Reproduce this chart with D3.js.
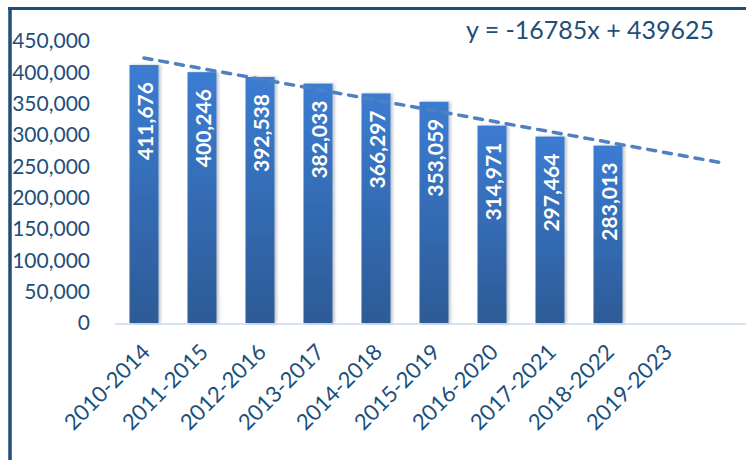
<!DOCTYPE html>
<html>
<head>
<meta charset="utf-8">
<script src="https://cdn.jsdelivr.net/npm/d3@7"></script>
<style>
  html, body { margin: 0; padding: 0; background: #fff; }
  #chart { width: 746px; height: 460px; overflow: hidden; }
  text { font-family: Lato, "Open Sans", sans-serif; }
</style>
</head>
<body>
<div id="chart"></div>
<script>
// Periodos (a última categoria fica vazia, como no original)
const periodos = ["2010-2014", "2011-2015", "2012-2016", "2013-2017", "2014-2018",
                  "2015-2019", "2016-2020", "2017-2021", "2018-2022", "2019-2023", ""];
const totais = [411676, 400246, 392538, 382033, 366297, 353059, 314971, 297464, 283013, null, null];
const yTicks = [0, 50000, 100000, 150000, 200000, 250000, 300000, 350000, 400000, 450000];
// Linha de tendência mostrada no gráfico
const tendSlope = -16785;
const tendIntercept = 439625;
const tendX = [1, 11];

const width = 746, height = 460;
const corTexto = "#1f4e79";

const svg = d3.select("#chart").append("svg")
    .attr("width", width)
    .attr("height", height);

const defs = svg.append("defs");
const grad = defs.append("linearGradient")
    .attr("id", "gradBarra")
    .attr("x1", 0).attr("y1", 0).attr("x2", 0).attr("y2", 1);
grad.append("stop").attr("offset", "0%").attr("stop-color", "#3b7cd2");
grad.append("stop").attr("offset", "100%").attr("stop-color", "#2d5b96");

const sombra = defs.append("filter").attr("id", "sombra")
    .attr("x", "-30%").attr("y", "-5%").attr("width", "160%").attr("height", "110%");
sombra.append("feDropShadow")
    .attr("dx", 2).attr("dy", 0).attr("stdDeviation", 1.5)
    .attr("flood-color", "#000").attr("flood-opacity", 0.25);

// Moldura
svg.append("line")
    .attr("x1", 8).attr("x2", width).attr("y1", 8.5).attr("y2", 8.5)
    .attr("stroke", corTexto).attr("stroke-width", 3);
svg.append("line")
    .attr("x1", 10).attr("x2", 10).attr("y1", 7).attr("y2", height)
    .attr("stroke", corTexto).attr("stroke-width", 3.5);

const x = d3.scaleBand()
    .domain(d3.range(periodos.length))
    .range([115, 753])
    .paddingInner(0.5)
    .paddingOuter(0.25);

const y = d3.scaleLinear()
    .domain([0, 450000])
    .range([323, 41]);

// Eixo Y (só rótulos)
const eixoY = svg.append("g")
    .attr("transform", "translate(90,0)")
    .call(d3.axisLeft(y).tickValues(yTicks).tickSize(0).tickPadding(0)
        .tickFormat(d3.format(",")));
eixoY.select(".domain").remove();
eixoY.selectAll("text")
    .attr("font-size", "21px")
    .attr("font-family", "Lato, sans-serif")
    .attr("fill", corTexto);

// Linha base
svg.append("line")
    .attr("x1", 115).attr("x2", width)
    .attr("y1", 324).attr("y2", 324)
    .attr("stroke", "#d5e3f5").attr("stroke-width", 2);

// Barras
const dadosBarras = totais.map((v, i) => ({ i, v })).filter(d => d.v != null);

svg.append("g")
    .selectAll("rect")
    .data(dadosBarras)
    .enter()
    .append("rect")
    .attr("x", d => x(d.i))
    .attr("y", d => y(d.v))
    .attr("width", x.bandwidth())
    .attr("height", d => y(0) - y(d.v))
    .attr("fill", "url(#gradBarra)")
    .attr("filter", "url(#sombra)");

// Rótulos das barras
svg.append("g")
    .selectAll("text")
    .data(dadosBarras)
    .enter()
    .append("text")
    .attr("transform", d => `translate(${x(d.i) + x.bandwidth() / 2 + 1}, ${y(d.v) + 17}) rotate(-90)`)
    .attr("text-anchor", "end")
    .attr("dy", "0.36em")
    .attr("font-size", "21px")
    .attr("font-weight", "bold")
    .attr("fill", "#fff")
    .text(d => d3.format(",")(d.v));

// Rótulos do eixo X
svg.append("g")
    .selectAll("text")
    .data(periodos)
    .enter()
    .append("text")
    .attr("transform", (d, i) => `translate(${x(i) + x.bandwidth() / 2 + 2}, 348) rotate(-45)`)
    .attr("text-anchor", "end")
    .attr("dy", "0.35em")
    .attr("font-size", "22px")
    .attr("fill", corTexto)
    .text(d => d);

// Tendência
const linha = d3.line()
    .x(d => x(d - 1) + x.bandwidth() / 2)
    .y(d => y(tendSlope * d + tendIntercept));

svg.append("path")
    .datum(tendX)
    .attr("d", linha)
    .attr("fill", "none")
    .attr("stroke", "#4f81c2")
    .attr("stroke-width", 3.5)
    .attr("stroke-dasharray", "8,8")
    .attr("stroke-linecap", "round");

svg.append("text")
    .attr("x", 466)
    .attr("y", 39)
    .attr("font-size", "25px")
    .attr("fill", corTexto)
    .text(`y = ${tendSlope}x + ${tendIntercept}`);
</script>
</body>
</html>
